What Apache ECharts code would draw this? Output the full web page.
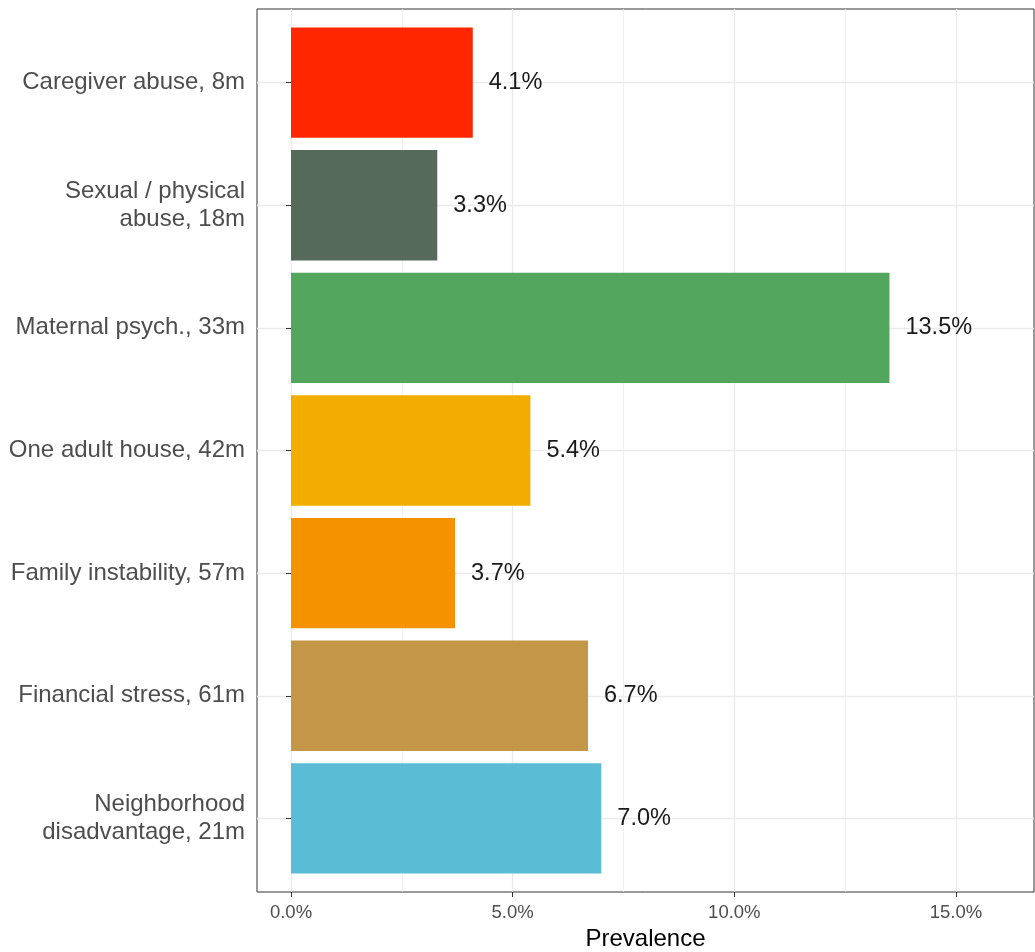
<!DOCTYPE html>
<html>
<head>
<meta charset="utf-8">
<script src="https://cdn.jsdelivr.net/npm/echarts@6/dist/echarts.min.js"></script>
<style>
html,body{margin:0;padding:0;background:#fff;}
#chart{width:1035px;height:952px;}
</style>
</head>
<body>
<div id="chart"></div>
<script>
// ---- data ----
const categories = [
  'Caregiver abuse, 8m',
  'Sexual / physical\nabuse, 18m',
  'Maternal psych., 33m',
  'One adult house, 42m',
  'Family instability, 57m',
  'Financial stress, 61m',
  'Neighborhood\ndisadvantage, 21m'
];
const prevalence = [4.1, 3.3, 13.5, 5.4, 3.7, 6.7, 7.0];
const barColors = ['#FF2600', '#556A5B', '#53A65E', '#F2AD00', '#F49200', '#C49647', '#5BBCD6'];
const xMajorTicks = [0, 5, 10, 15];
const xMinorTicks = [2.5, 7.5, 12.5];
const yPositions = categories.map((c, i) => i + 1);

const FONT = '"Liberation Sans", Arial, Helvetica, sans-serif';

const chart = echarts.init(document.getElementById('chart'), null, {renderer: 'canvas'});

const seriesData = prevalence.map((v, i) => [v, yPositions[i]]);

chart.setOption({
  animation: false,
  backgroundColor: '#ffffff',
  grid: {
    left: 257, top: 9, width: 777, height: 883,
    outerBoundsMode: 'none', containLabel: false,
    show: true, borderColor: '#333333', borderWidth: 1, backgroundColor: 'transparent'
  },
  xAxis: [
    {
      type: 'value', min: -0.767, max: 16.76,
      axisLine: {show: false},
      axisTick: {show: true, length: 5, customValues: xMajorTicks, lineStyle: {color: '#333333'}},
      axisLabel: {
        customValues: xMajorTicks, margin: 11,
        color: '#4d4d4d', fontSize: 18.5, fontFamily: FONT,
        formatter: v => v.toFixed(1) + '%'
      },
      splitLine: {show: true, lineStyle: {color: '#ebebeb', width: 1.3}},
      name: 'Prevalence', nameLocation: 'middle', nameGap: 34,
      nameTextStyle: {color: '#000000', fontSize: 24, fontFamily: FONT}
    },
    {
      type: 'value', min: -0.767, max: 16.76,
      axisLine: {show: false},
      axisTick: {show: false, customValues: xMinorTicks},
      axisLabel: {show: false, customValues: xMinorTicks},
      splitLine: {show: true, lineStyle: {color: '#ebebeb', width: 0.7}}
    }
  ],
  yAxis: {
    type: 'value', min: 0.4, max: 7.6, inverse: true,
    axisLine: {show: false},
    axisTick: {show: true, length: 5, customValues: yPositions, lineStyle: {color: '#333333'}},
    axisLabel: {
      customValues: yPositions, margin: 12,
      color: '#4d4d4d', fontSize: 24, fontFamily: FONT, lineHeight: 28, align: 'right',
      formatter: v => categories[Math.round(v) - 1] || ''
    },
    splitLine: {show: true, lineStyle: {color: '#ebebeb', width: 1.3}}
  },
  series: [{
    type: 'custom',
    xAxisIndex: 0,
    yAxisIndex: 0,
    encode: {x: 0, y: 1},
    data: seriesData,
    z: 5,
    renderItem: function (params, api) {
      const v = api.value(0);
      const pos = api.value(1);
      const start = api.coord([0, pos]);
      const end = api.coord([v, pos]);
      const h = Math.abs(api.size([0, 0.9])[1]);
      return {
        type: 'group',
        children: [
          {
            type: 'rect',
            shape: {x: start[0], y: start[1] - h / 2, width: end[0] - start[0], height: h},
            style: {fill: barColors[params.dataIndex]}
          },
          {
            type: 'text',
            x: end[0] + 16,
            y: end[1],
            style: {
              text: v.toFixed(1) + '%',
              fill: '#1a1a1a',
              font: '23.5px ' + FONT,
              align: 'left',
              verticalAlign: 'middle'
            }
          }
        ]
      };
    }
  }]
});
</script>
</body>
</html>
